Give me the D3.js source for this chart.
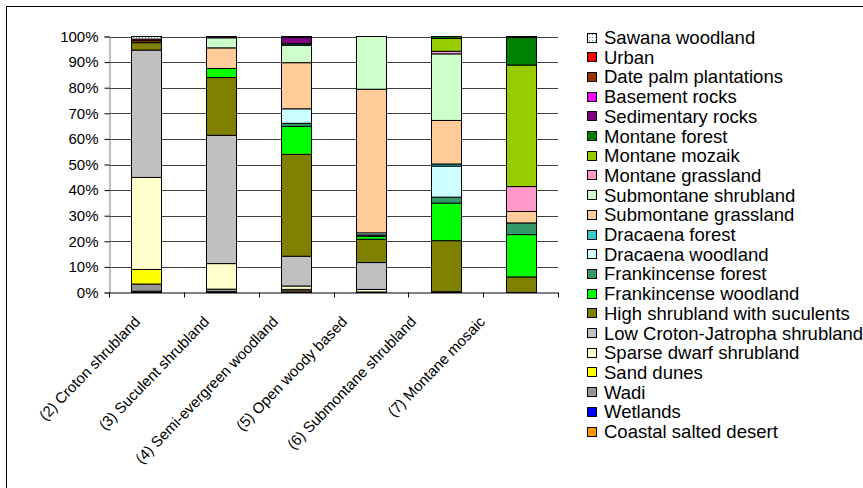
<!DOCTYPE html>
<html><head><meta charset="utf-8">
<script src="https://cdn.jsdelivr.net/npm/d3@7"></script>
<style>body{margin:0;background:#fff;} text{font-family:Arial,"Liberation Sans",sans-serif;}</style>
</head><body><svg id="c" width="863" height="488"></svg>
<script>
const categories = ["(2) Croton shrubland","(3) Suculent shrubland","(4) Semi-evergreen woodland","(5) Open woody based","(6) Submontane shrubland","(7) Montane mosaic"];
// legend order (top to bottom); stacking is the reverse
const seriesNames = ["Sawana woodland","Urban","Date palm plantations","Basement rocks","Sedimentary rocks","Montane forest","Montane mozaik","Montane grassland","Submontane shrubland","Submontane grassland","Dracaena forest","Dracaena woodland","Frankincense forest","Frankincense woodland","High shrubland with suculents","Low Croton-Jatropha shrubland","Sparse dwarf shrubland","Sand dunes","Wadi","Wetlands","Coastal salted desert"];
const seriesColors = ["pattern","#FF0000","#993300","#FF00FF","#800080","#008000","#99CC00","#FF99CC","#CCFFCC","#FFCC99","#33CCCC","#CCFFFF","#339966","#00FF00","#808000","#C0C0C0","#FFFFCC","#FFFF00","#969696","#0000FF","#FF9900"];
const seriesValues = [
  [1.0,0,0.4,0,0,0],
  [0.6,0,0,0,0,0],
  [0.8,0,0,0,0,0],
  [0,0,0,0,0,0],
  [0,0.5,2.4,0,0,0.4],
  [0,0,0.6,0,0.7,10.6],
  [0,0,0,0,5.0,46.8],
  [0,0,0,0,1.0,9.6],
  [0,3.9,6.7,20.6,25.7,0],
  [0,8.0,17.8,56.1,16.8,4.4],
  [0,0,0,0,0.8,0],
  [0,0,5.6,0.8,12.0,0],
  [0,0,1.2,0.5,2.3,4.5],
  [0,3.5,10.8,1.2,14.5,16.3],
  [2.9,22.4,39.3,9.1,19.7,6.0],
  [49.7,49.7,11.5,10.5,0,0],
  [35.9,9.9,1.3,1.0,0,0],
  [5.7,0,0,0,0,0],
  [2.8,1.0,0.6,0.2,0.3,0],
  [0,0,0,0,0,0],
  [0.5,0.3,0.6,0,0,0]
];
const yTicks = [0,0.1,0.2,0.3,0.4,0.5,0.6,0.7,0.8,0.9,1.0];

const svg = d3.select("#c");
const defs = svg.append("defs");
const pat = defs.append("pattern").attr("id","sawana").attr("patternUnits","userSpaceOnUse").attr("width",3).attr("height",3);
pat.append("rect").attr("width",3).attr("height",3).attr("fill","#fff");
pat.append("rect").attr("x",1).attr("y",1).attr("width",1).attr("height",1).attr("fill","#339999");
const fillOf = i => seriesColors[i]==="pattern" ? "url(#sawana)" : seriesColors[i];

// outer frame
svg.append("rect").attr("x",6.5).attr("y",6.5).attr("width",900).attr("height",500).attr("fill","none").attr("stroke","#000");

const pLeft=109, pRight=558, pTop=36.5, pBottom=292.5;
const x = d3.scaleBand().domain(categories).range([pLeft,pRight]).paddingInner(0.6).paddingOuter(0.3);
const y = d3.scaleLinear().domain([0,1]).range([pBottom,pTop]);
const labelX = d3.scalePoint().domain(categories).range([141,486]);

// table for stack
const rows = categories.map((c,ci)=>{const o={cat:c}; seriesNames.forEach((s,si)=>o[s]=seriesValues[si][ci]); return o;});
const stackKeys = seriesNames.slice().reverse();
const stacked = d3.stack().keys(stackKeys).offset(d3.stackOffsetExpand)(rows);

// gridlines
svg.append("g").selectAll("line").data(yTicks.slice(1)).join("line")
  .attr("x1",pLeft).attr("x2",pRight).attr("y1",d=>Math.round(y(d))+0.5).attr("y2",d=>Math.round(y(d))+0.5)
  .attr("stroke","#404040").attr("stroke-width",1);

// bars
stacked.forEach(layer=>{
  const si = seriesNames.indexOf(layer.key);
  svg.append("g").selectAll("rect").data(layer.filter(d=>d[1]-d[0]>0)).join("rect")
    .attr("x",d=>Math.round(x(d.data.cat))+0.5)
    .attr("width",Math.round(x.bandwidth()))
    .attr("y",d=>y(d[1]))
    .attr("height",d=>y(d[0])-y(d[1]))
    .attr("fill",fillOf(si)).attr("stroke","#000").attr("stroke-width",1);
});

// y axis
const ya = svg.append("g").attr("transform",`translate(${pLeft+0.5},0)`)
  .call(d3.axisLeft(y).tickValues(yTicks).tickFormat(d3.format(".0%")).tickSize(5).tickPadding(6));
ya.select(".domain").attr("stroke","#808080");
ya.selectAll(".tick line").attr("stroke","#000");
ya.selectAll(".tick text").attr("font-size","15px").attr("fill","#000").style("font-family","Arial, 'Liberation Sans', sans-serif");

// x axis
const xa = svg.append("g").attr("transform",`translate(0,${pBottom})`);
xa.append("line").attr("x1",pLeft).attr("x2",pRight+0.5).attr("y1",0.5).attr("y2",0.5).attr("stroke","#000");
const edges = d3.range(categories.length+1).map(i=>pLeft+(pRight-pLeft)*i/categories.length);
xa.selectAll("line.tk").data(edges).join("line").attr("class","tk")
  .attr("x1",d=>Math.round(d)+0.5).attr("x2",d=>Math.round(d)+0.5).attr("y1",0).attr("y2",5).attr("stroke","#000");
xa.selectAll("text.lab").data(categories).join("text").attr("class","lab")
  .attr("text-anchor","end").attr("font-size","15px")
  .attr("transform",d=>`translate(${labelX(d)},${30}) rotate(-46)`)
  .text(d=>d);

// legend
const lg = svg.append("g");
seriesNames.forEach((s,i)=>{
  const cy = 37.5 + i*19.7;
  lg.append("rect").attr("x",587.5).attr("y",Math.round(cy-5)+0.5).attr("width",9).attr("height",9)
    .attr("fill",fillOf(i)).attr("stroke","#000");
  lg.append("text").attr("x",604).attr("y",cy+6.5).attr("font-size","18.5px").text(s);
});
</script></body></html>
